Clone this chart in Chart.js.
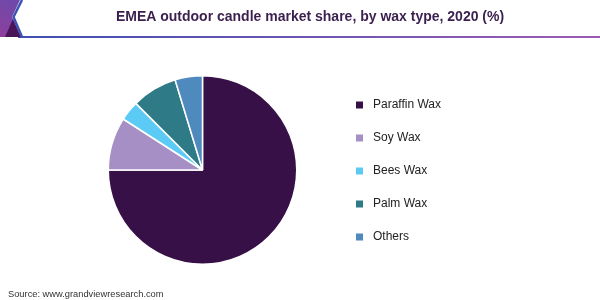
<!DOCTYPE html>
<html>
<head>
<meta charset="utf-8">
<script src="https://cdn.jsdelivr.net/npm/chart.js@4"></script>
<style>
  html, body { margin: 0; padding: 0; background: #fff; }
  #wrap { position: relative; width: 600px; height: 300px; }
</style>
</head>
<body>
<div id="wrap"><canvas id="c" width="600" height="300"></canvas></div>
<script>
const titleText = "EMEA outdoor candle market share, by wax type, 2020 (%)";
const sourceText = "Source: www.grandviewresearch.com";
const categories = ["Paraffin Wax", "Soy Wax", "Bees Wax", "Palm Wax", "Others"];
const shares = [75.0, 9.1, 3.4, 7.8, 4.7];
const sliceColors = ["#371047", "#a58fc4", "#5bcbf5", "#2e7a87", "#4f8abf"];

const decorPlugin = {
  id: 'decor',
  beforeDraw(chart) {
    const ctx = chart.ctx;
    ctx.save();
    const g = ctx.createLinearGradient(20, 0, 600, 0);
    g.addColorStop(0, '#3f4fb0');
    g.addColorStop(1, '#9c5bb4');
    ctx.fillStyle = g;
    ctx.fillRect(18, 36, 582, 2);
    const g2 = ctx.createLinearGradient(0, 37, 22, 0);
    g2.addColorStop(0, '#8e3f9c');
    g2.addColorStop(1, '#6a4aac');
    ctx.fillStyle = g2;
    ctx.beginPath();
    ctx.moveTo(0, 0); ctx.lineTo(20, 0); ctx.lineTo(12, 17); ctx.lineTo(20, 37); ctx.lineTo(0, 37);
    ctx.closePath(); ctx.fill();
    ctx.fillStyle = '#4a1458';
    ctx.beginPath();
    ctx.moveTo(5, 37); ctx.lineTo(13, 19); ctx.lineTo(21, 37);
    ctx.closePath(); ctx.fill();
    ctx.strokeStyle = '#3c52b5';
    ctx.lineWidth = 2.5;
    ctx.beginPath();
    ctx.moveTo(22, 0); ctx.lineTo(13.5, 17); ctx.lineTo(22, 37);
    ctx.stroke();
    ctx.restore();
  },
  afterDraw(chart) {
    const ctx = chart.ctx;
    ctx.save();
    ctx.fillStyle = '#3a1f4f';
    ctx.font = 'bold 14px "Liberation Sans", Arial, sans-serif';
    ctx.textAlign = 'center';
    ctx.textBaseline = 'middle';
    ctx.fillText(titleText, 310, 17);
    const labels = chart.data.labels;
    const colors = chart.data.datasets[0].backgroundColor;
    ctx.textAlign = 'left';
    ctx.font = '12px "Liberation Sans", Arial, sans-serif';
    labels.forEach((lab, i) => {
      const y = 105 + i * 33;
      ctx.fillStyle = colors[i];
      ctx.fillRect(356, y - 3.5, 7, 7);
      ctx.fillStyle = '#222';
      ctx.fillText(lab, 373, y);
    });
    ctx.font = '9.3px "Liberation Sans", Arial, sans-serif';
    ctx.fillStyle = '#333';
    ctx.fillText(sourceText, 8, 294);
    ctx.restore();
  }
};

new Chart(document.getElementById('c'), {
  type: 'pie',
  data: {
    labels: categories,
    datasets: [{
      data: shares,
      backgroundColor: sliceColors,
      borderColor: '#ffffff',
      borderWidth: 1.5
    }]
  },
  options: {
    responsive: false,
    animation: false,
    devicePixelRatio: 1,
    layout: { padding: { left: 107, right: 302, top: 75, bottom: 35 } },
    plugins: {
      legend: { display: false },
      tooltip: { enabled: false },
      title: { display: false }
    }
  },
  plugins: [decorPlugin]
});
</script>
</body>
</html>
